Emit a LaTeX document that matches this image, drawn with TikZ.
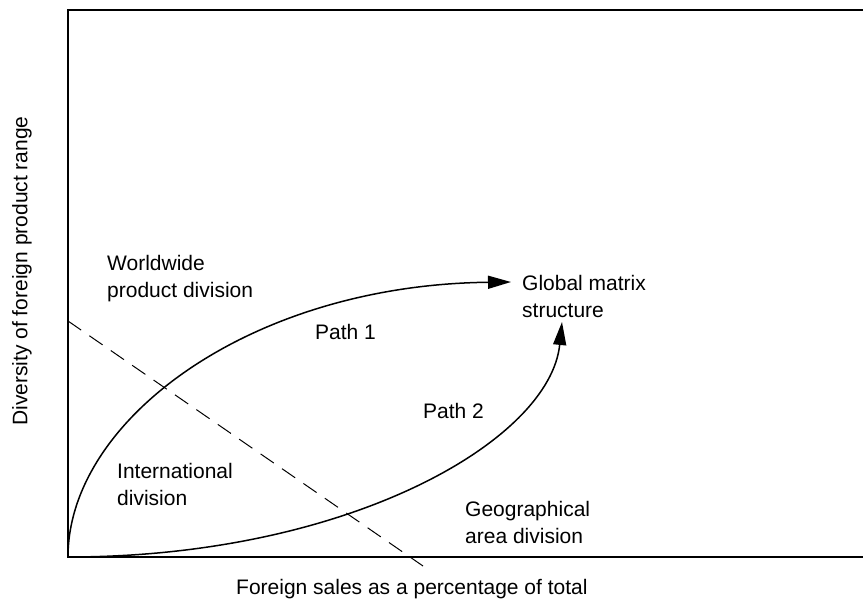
\documentclass[tikz,border=0pt]{standalone}
\usepackage{fontspec}
\setmainfont{Liberation Sans}
\usetikzlibrary{arrows.meta}

\tikzset{
  lbl/.style={font=\fontsize{21bp}{26.5bp}\selectfont, inner sep=0pt, align=left, anchor=base west},
  pathline/.style={line width=1.5bp, -{Triangle[length=23bp, width=13bp]}},
}

\begin{document}
\begin{tikzpicture}[x=1bp, y=-1bp]
  \useasboundingbox (0,0) rectangle (863,601);

  % Axes (open on the right)
  \coordinate (O) at (68,557);
  \draw[line width=1.8bp] (863,10) -- (68,10) -- (O) -- (863,557);

  % Axis labels
  \node[lbl, anchor=center, rotate=90] (ylabel) at (22,271) {Diversity of foreign product range};
  \node[lbl] (xlabel) at (236,594) {Foreign sales as a percentage of total};

  % Structure labels (base = last line)
  \node[lbl] (worldwide) at (107,297) {Worldwide\\product division};
  \node[lbl] (global) at (522,317) {Global matrix\\structure};
  \node[lbl] (intl) at (117,505) {International\\division};
  \node[lbl] (geo) at (465,543) {Geographical\\area division};

  % Dashed boundary
  \coordinate (dashA) at (68,321);
  \coordinate (dashB) at (423,566);
  \draw[line width=1bp, dash pattern=on 16bp off 10bp] (dashA) -- (dashB);

  % Path 1
  \coordinate (tip1) at (511,282);
  \draw[pathline] (O) .. controls (68,420) and (250,285) .. (tip1);
  \node[lbl] (path1) at (315,339) {Path 1};

  % Path 2
  \coordinate (tip2) at (562,322);
  \draw[pathline] (O) .. controls (350,557) and (550,440) .. (tip2);
  \node[lbl] (path2) at (423,418) {Path 2};
\end{tikzpicture}
\end{document}
